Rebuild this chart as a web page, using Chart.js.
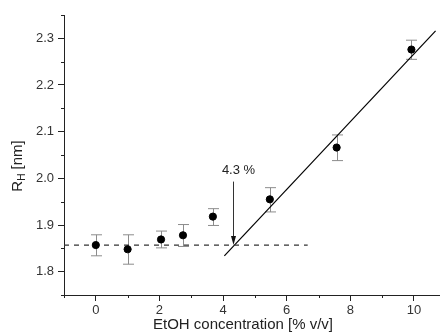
<!DOCTYPE html>
<html>
<head>
<meta charset="utf-8">
<script src="https://cdn.jsdelivr.net/npm/chart.js@4.4.1/dist/chart.umd.min.js"></script>
<style>
  html, body { margin: 0; padding: 0; background: #fff; }
  #wrap { width: 444px; height: 334px; }
</style>
</head>
<body>
<div id="wrap"><canvas id="chart" width="444" height="334"></canvas></div>
<script>
// measured points (EtOH % v/v vs hydrodynamic radius, nm)
const conc = [0, 1.0, 2.05, 2.74, 3.68, 5.47, 7.57, 9.92];
const rh = [1.857, 1.848, 1.869, 1.878, 1.918, 1.955, 2.066, 2.276];
const rhHigh = [1.879, 1.879, 1.887, 1.901, 1.935, 1.980, 2.093, 2.296];
const rhLow = [1.834, 1.816, 1.851, 1.854, 1.899, 1.928, 2.038, 2.255];

// baseline (dashed) and linear fit above the transition
const baseX = [-1, 6.66];
const baseY = [1.857, 1.857];
const fitX = [4.04, 10.68];
const fitY = [1.834, 2.316];

// transition marker
const markX = 4.3;
const markTop = 1.993;
const markLabel = '4.3 %';

const xTicks = [0, 2, 4, 6, 8, 10];
const xMinor = [-1, 1, 3, 5, 7, 9];
const yTicks = [1.8, 1.9, 2.0, 2.1, 2.2, 2.3];
const yMinor = [1.75, 1.85, 1.95, 2.05, 2.15, 2.25, 2.35];

const FONT = '"Liberation Sans", Arial, sans-serif';
const AXIS = '#222';

const extras = {
  id: 'extras',
  beforeDatasetsDraw(chart) {
    const { ctx, scales: { x, y } } = chart;
    // error bars
    ctx.save();
    ctx.strokeStyle = '#8c8c8c';
    ctx.lineWidth = 1;
    conc.forEach((c, i) => {
      const px = Math.round(x.getPixelForValue(c)) + 0.5;
      const hi = y.getPixelForValue(rhHigh[i]);
      const lo = y.getPixelForValue(rhLow[i]);
      ctx.beginPath();
      ctx.moveTo(px, hi); ctx.lineTo(px, lo);
      ctx.moveTo(px - 5.5, hi); ctx.lineTo(px + 5.5, hi);
      ctx.moveTo(px - 5.5, lo); ctx.lineTo(px + 5.5, lo);
      ctx.stroke();
    });
    ctx.restore();
  },
  afterDraw(chart) {
    const { ctx, chartArea, scales: { x, y } } = chart;
    ctx.save();
    // minor ticks
    ctx.strokeStyle = AXIS;
    ctx.lineWidth = 1;
    ctx.beginPath();
    xMinor.forEach(v => {
      const px = Math.round(x.getPixelForValue(v)) + 0.5;
      ctx.moveTo(px, chartArea.bottom); ctx.lineTo(px, chartArea.bottom + 3);
    });
    yMinor.forEach(v => {
      const py = Math.round(y.getPixelForValue(v)) + 0.5;
      ctx.moveTo(chartArea.left, py); ctx.lineTo(chartArea.left - 3, py);
    });
    ctx.stroke();

    // arrow + label
    const ax = Math.round(x.getPixelForValue(markX)) + 0.5;
    const ay0 = y.getPixelForValue(markTop);
    const ay1 = y.getPixelForValue(baseY[0]);
    ctx.strokeStyle = '#333';
    ctx.beginPath();
    ctx.moveTo(ax, ay0); ctx.lineTo(ax, ay1 - 6);
    ctx.stroke();
    ctx.fillStyle = '#111';
    ctx.beginPath();
    ctx.moveTo(ax, ay1);
    ctx.lineTo(ax - 2.5, ay1 - 9);
    ctx.lineTo(ax + 2.5, ay1 - 9);
    ctx.closePath();
    ctx.fill();
    ctx.fillStyle = '#222';
    ctx.font = '13px ' + FONT;
    ctx.textAlign = 'center';
    ctx.textBaseline = 'middle';
    ctx.fillText(markLabel, ax + 5, y.getPixelForValue(2.016));

    // axis titles
    ctx.font = '15px ' + FONT;
    ctx.fillText('EtOH concentration [% v/v]', 243, 325);
    ctx.translate(18, 166);
    ctx.rotate(-Math.PI / 2);
    ctx.textAlign = 'left';
    ctx.textBaseline = 'middle';
    const r = 'R', sub = 'H', rest = ' [nm]';
    ctx.font = '15px ' + FONT;
    const wR = ctx.measureText(r).width;
    ctx.font = '10px ' + FONT;
    const wS = ctx.measureText(sub).width;
    ctx.font = '15px ' + FONT;
    const wRest = ctx.measureText(rest).width;
    let sx = -(wR + wS + wRest) / 2;
    ctx.fillText(r, sx, 0);
    sx += wR;
    ctx.font = '10px ' + FONT;
    ctx.fillText(sub, sx, 4);
    sx += wS;
    ctx.font = '15px ' + FONT;
    ctx.fillText(rest, sx, 0);
    ctx.restore();
  }
};

new Chart(document.getElementById('chart').getContext('2d'), {
  type: 'scatter',
  data: {
    datasets: [
      {
        label: 'RH',
        data: conc.map((c, i) => ({ x: c, y: rh[i] })),
        backgroundColor: '#000',
        borderColor: '#000',
        pointRadius: 3.6,
        pointHoverRadius: 3.6,
      },
      {
        label: 'baseline',
        type: 'line',
        data: baseX.map((v, i) => ({ x: v, y: baseY[i] })),
        borderColor: '#333',
        borderWidth: 1.2,
        borderDash: [5, 5],
        pointRadius: 0,
        fill: false,
      },
      {
        label: 'fit',
        type: 'line',
        data: fitX.map((v, i) => ({ x: v, y: fitY[i] })),
        borderColor: '#000',
        borderWidth: 1.2,
        pointRadius: 0,
        fill: false,
      },
    ],
  },
  options: {
    responsive: false,
    animation: false,
    events: [],
    layout: { padding: { top: 15, right: 4, left: 0, bottom: 0 } },
    plugins: {
      legend: { display: false },
      tooltip: { enabled: false },
    },
    scales: {
      x: {
        type: 'linear',
        min: -1,
        max: 10.8,
        afterBuildTicks: (scale) => { scale.ticks = xTicks.map(v => ({ value: v })); },
        afterFit: (scale) => { scale.height = 39; },
        grid: { drawOnChartArea: false, color: AXIS, tickLength: 6 },
        border: { color: AXIS, width: 1 },
        ticks: { color: '#333', font: { family: FONT, size: 13 }, padding: 2, maxRotation: 0 },
      },
      y: {
        type: 'linear',
        min: 1.75,
        max: 2.35,
        afterBuildTicks: (scale) => { scale.ticks = yTicks.map(v => ({ value: v })); },
        afterFit: (scale) => { scale.width = 64; },
        grid: { drawOnChartArea: false, color: AXIS, tickLength: 6 },
        border: { color: AXIS, width: 1 },
        ticks: {
          color: '#333',
          font: { family: FONT, size: 13 },
          padding: 4,
          callback: (v) => v.toFixed(1),
        },
      },
    },
  },
  plugins: [extras],
});
</script>
</body>
</html>
